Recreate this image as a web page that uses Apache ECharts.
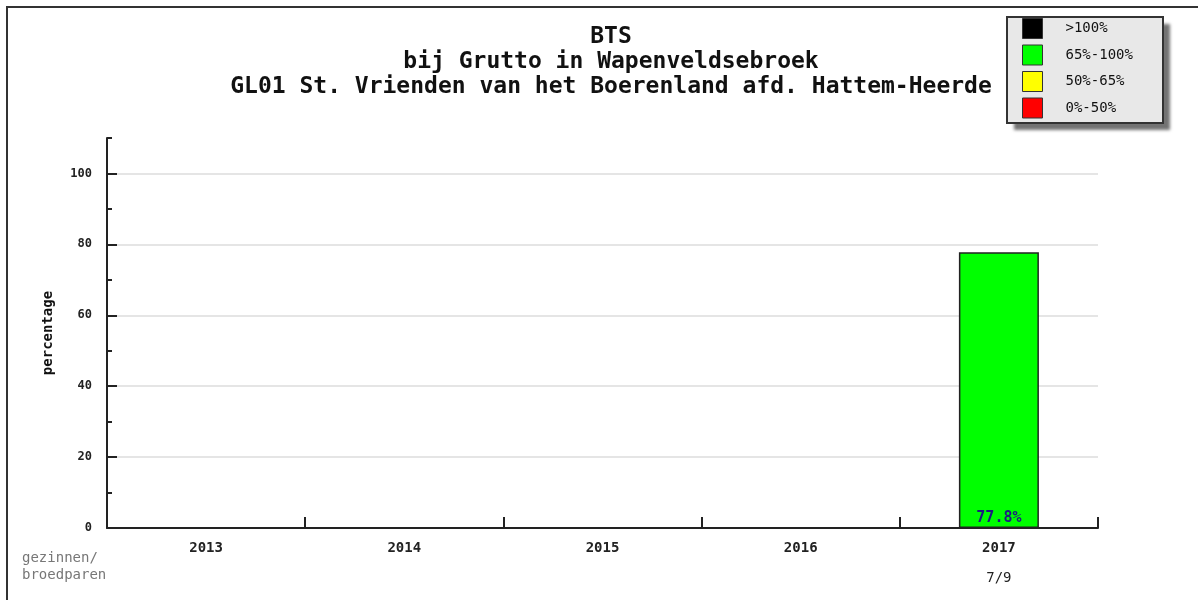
<!DOCTYPE html>
<html>
<head>
<meta charset="utf-8">
<script src="https://cdn.jsdelivr.net/npm/echarts@6/dist/echarts.min.js"></script>
<style>
  html, body { margin: 0; padding: 0; background: #fff; }
  #chart { width: 1198px; height: 600px; }
</style>
</head>
<body>
<div id="chart"></div>
<script>
// Breeding success per year (percentage) and counts of families / breeding pairs
const years = ['2013', '2014', '2015', '2016', '2017'];
const percentages = [null, null, null, null, 77.8];
const counts = ['', '', '', '', '7/9'];
const yMajorTicks = [0, 20, 40, 60, 80, 100];
const yMinorTicks = [10, 30, 50, 70, 90, 110];

// Colour bands shown in the legend
const bands = [
  { name: '>100%',    color: '#000000', from: 100, to: Infinity },
  { name: '65%-100%', color: '#00ff00', from: 65,  to: 100 },
  { name: '50%-65%',  color: '#ffff00', from: 50,  to: 65 },
  { name: '0%-50%',   color: '#ff0000', from: 0,   to: 50 }
];

const FONT = '"DejaVu Sans Mono", "Liberation Mono", monospace';

// Legend box placement (the frame is drawn separately so its shadow stays outside)
const LEGEND_BOX = { x: 1007, y: 17, w: 156, h: 106 };

function inBand(v, b) {
  if (v === null) return false;
  if (b.to === Infinity) return v > b.from;
  return v >= b.from && v <= b.to;
}

const series = bands.map(function (b) {
  return {
    name: b.name,
    type: 'bar',
    stack: 'pct',
    barWidth: 80,
    itemStyle: { color: b.color, borderColor: '#222', borderWidth: 1.5 },
    label: {
      show: true,
      position: 'insideBottom',
      distance: 2,
      color: '#1c1c80',
      fontFamily: FONT,
      fontWeight: 'bold',
      fontSize: 15,
      formatter: function (p) { return p.value == null ? '' : p.value + '%'; }
    },
    data: percentages.map(function (v) { return inBand(v, b) ? v : null; })
  };
});

const chart = echarts.init(document.getElementById('chart'));
chart.setOption({
  backgroundColor: '#ffffff',
  animation: false,
  title: {
    text: 'BTS\nbij Grutto in Wapenveldsebroek\nGL01 St. Vrienden van het Boerenland afd. Hattem-Heerde',
    left: 606,
    top: 20,
    textAlign: 'center',
    textStyle: {
      fontFamily: FONT,
      fontWeight: 'bold',
      fontSize: 23,
      lineHeight: 25,
      color: '#111'
    }
  },
  legend: {
    orient: 'vertical',
    left: LEGEND_BOX.x,
    top: LEGEND_BOX.y,
    width: LEGEND_BOX.w,
    data: bands.map(function (b) { return b.name; }),
    icon: 'rect',
    itemWidth: 20,
    itemHeight: 20,
    itemGap: 5.5,
    padding: [1, 30, 10, 15],
    backgroundColor: 'transparent',
    borderWidth: 0,
    selectedMode: false,
    itemStyle: { borderColor: '#333', borderWidth: 1 },
    textStyle: {
      fontFamily: FONT,
      fontSize: 14,
      color: '#111',
      padding: [0, 0, 0, 18]
    }
  },
  grid: { left: 107, right: 100, top: 138, bottom: 72 },
  xAxis: [
    {
      type: 'category',
      data: years,
      position: 'bottom',
      axisLine: { show: true, lineStyle: { color: '#222', width: 2 } },
      axisTick: { show: true, inside: true, length: 11, lineStyle: { color: '#222', width: 2 } },
      axisLabel: {
        margin: 13,
        fontFamily: FONT,
        fontWeight: 'bold',
        fontSize: 14,
        color: '#222'
      },
      splitLine: { show: false }
    },
    {
      type: 'category',
      data: counts,
      position: 'bottom',
      offset: 30,
      axisLine: { show: false },
      axisTick: { show: false },
      axisLabel: {
        margin: 13,
        fontFamily: FONT,
        fontSize: 14,
        color: '#222'
      },
      splitLine: { show: false }
    }
  ],
  yAxis: [
    {
      type: 'value',
      min: 0,
      max: 110,
      name: 'percentage',
      nameLocation: 'middle',
      nameGap: 52,
      nameRotate: 90,
      nameTextStyle: {
        fontFamily: FONT,
        fontWeight: 'bold',
        fontSize: 14,
        color: '#111'
      },
      axisLine: { show: true, lineStyle: { color: '#222', width: 2 } },
      axisTick: {
        show: true,
        inside: true,
        length: 10,
        customValues: yMajorTicks,
        lineStyle: { color: '#222', width: 2 }
      },
      axisLabel: {
        customValues: yMajorTicks,
        margin: 15,
        fontFamily: FONT,
        fontWeight: 'bold',
        fontSize: 12,
        color: '#222'
      },
      splitLine: { show: true, showMinLine: false, lineStyle: { color: '#dcdcdc', width: 1.5 } }
    },
    {
      type: 'value',
      min: 0,
      max: 110,
      position: 'left',
      axisLine: { show: false },
      axisTick: {
        show: true,
        inside: true,
        length: 5,
        customValues: yMinorTicks,
        lineStyle: { color: '#222', width: 2 }
      },
      axisLabel: { show: false },
      splitLine: { show: false }
    }
  ],
  graphic: [
    {
      type: 'polyline',
      shape: { points: [[7, 600], [7, 7], [1198, 7]] },
      style: { stroke: '#333', lineWidth: 2, fill: null },
      silent: true
    },
    {
      // legend panel: filled box with drop shadow, drawn beneath the legend items
      type: 'rect',
      z: -1,
      silent: true,
      shape: { x: LEGEND_BOX.x, y: LEGEND_BOX.y, width: LEGEND_BOX.w, height: LEGEND_BOX.h },
      style: {
        fill: '#e8e8e8',
        shadowColor: 'rgba(0,0,0,0.55)',
        shadowBlur: 3,
        shadowOffsetX: 7,
        shadowOffsetY: 7
      }
    },
    {
      // legend panel frame
      type: 'rect',
      z: 1,
      silent: true,
      shape: { x: LEGEND_BOX.x, y: LEGEND_BOX.y, width: LEGEND_BOX.w, height: LEGEND_BOX.h },
      style: { fill: null, stroke: '#333', lineWidth: 2 }
    },
    {
      type: 'text',
      left: 22,
      top: 550,
      style: {
        text: 'gezinnen/\nbroedparen',
        fontFamily: FONT,
        fontSize: 14,
        lineHeight: 17,
        fill: '#777'
      }
    }
  ],
  series: series
});
</script>
</body>
</html>
